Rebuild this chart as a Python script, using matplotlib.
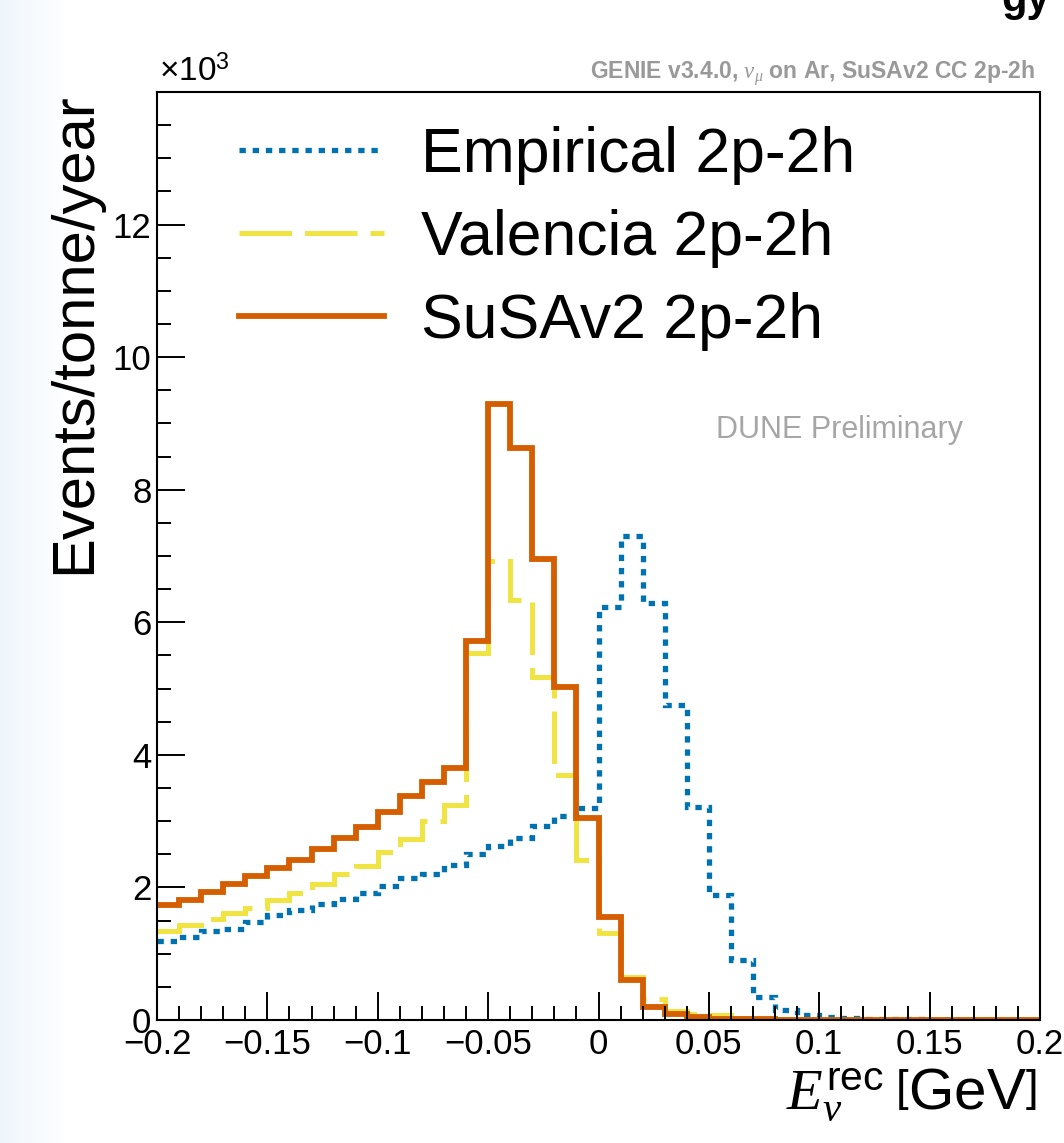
import numpy as np
import matplotlib
matplotlib.use("Agg")
from matplotlib import pyplot as plt
from matplotlib.ticker import MultipleLocator

plt.rcParams['font.family'] = ['Liberation Sans', 'DejaVu Sans']
plt.rcParams['mathtext.fontset'] = 'custom'
plt.rcParams['mathtext.rm'] = 'Liberation Sans'
plt.rcParams['mathtext.sf'] = 'Liberation Sans'
plt.rcParams['mathtext.it'] = 'Liberation Serif:italic'
plt.rcParams['axes.unicode_minus'] = True

# bin edges in GeV (40 bins of 0.01)
edges = np.linspace(-0.2, 0.2, 41)

# events/tonne/year, in units of 10^3
empirical = [1.19, 1.25, 1.34, 1.38, 1.48, 1.58, 1.66, 1.75, 1.83, 1.92,
             2.02, 2.14, 2.21, 2.34, 2.50, 2.63, 2.74, 2.93, 3.08, 3.20,
             6.23, 7.30, 6.29, 4.75, 3.22, 1.88, 0.90, 0.35, 0.15, 0.08,
             0.04, 0.025, 0.015, 0.01, 0.008, 0.006, 0.005, 0.004, 0.003, 0.002]
valencia = [1.35, 1.44, 1.52, 1.62, 1.69, 1.81, 1.91, 2.05, 2.20, 2.33,
            2.53, 2.73, 3.00, 3.25, 5.53, 6.93, 6.33, 5.18, 3.70, 2.41,
            1.31, 0.65, 0.31, 0.13, 0.09, 0.07, 0.03, 0.015, 0.01, 0.008,
            0.006, 0.005, 0.004, 0.003, 0.003, 0.002, 0.002, 0.001, 0.001, 0.001]
susav2 = [1.73, 1.81, 1.93, 2.05, 2.18, 2.29, 2.41, 2.58, 2.74, 2.91,
          3.14, 3.38, 3.59, 3.80, 5.72, 9.30, 8.63, 6.95, 5.03, 3.05,
          1.55, 0.60, 0.20, 0.09, 0.04, 0.02, 0.01, 0.008, 0.006, 0.005,
          0.004, 0.003, 0.003, 0.002, 0.002, 0.001, 0.001, 0.001, 0.001, 0.001]

labels = ["Empirical 2p-2h", "Valencia 2p-2h", "SuSAv2 2p-2h"]
xticks = [-0.2, -0.15, -0.1, -0.05, 0, 0.05, 0.1, 0.15, 0.2]
xticklabels = ["\u22120.2", "\u22120.15", "\u22120.1", "\u22120.05", "0",
               "0.05", "0.1", "0.15", "0.2"]
yticks = [0, 2, 4, 6, 8, 10, 12]

fig = plt.figure(dpi=100, figsize=(10.64, 11.43))

# pale background strip on the left like the screenshot
bg = fig.add_axes([0, 0, 1, 1], zorder=-10)
grad = np.clip(np.linspace(0, 1, 200) / 0.06, 0, 1)
img = np.ones((2, 200, 3))
pale = np.array([0.94, 0.965, 0.985])
for i in range(200):
    img[:, i, :] = pale * (1 - grad[i]) + grad[i]
bg.imshow(img, aspect='auto', extent=[0, 1, 0, 1])
bg.axis('off')

ax = fig.add_axes([0.1476, 0.1076, 0.8298, 0.8119])

# blue dotted, yellow dashed, orange solid
ax.stairs(empirical, edges, baseline=None, color='#0072B2', lw=3.8,
          linestyle=(0, (1.2, 1.3)), label=labels[0])
ax.stairs(valencia, edges, baseline=None, color='#F0E442', lw=3.6,
          linestyle=(0, (10.5, 2.6)), label=labels[1])
ax.stairs(susav2, edges, baseline=None, color='#D55E00', lw=4.2,
          label=labels[2])

ax.set_xlim(-0.2, 0.2)
ax.set_ylim(0, 14)
ax.set_xticks(xticks)
ax.set_xticklabels(xticklabels)
ax.xaxis.set_minor_locator(MultipleLocator(0.01))
ax.set_yticks(yticks)
ax.yaxis.set_minor_locator(MultipleLocator(0.5))
ax.tick_params(axis='both', which='major', direction='in', length=20,
               width=1.4, labelsize=25)
ax.tick_params(axis='both', which='minor', direction='in', length=10,
               width=1.4)
ax.tick_params(axis='x', which='major', pad=6)
ax.tick_params(axis='y', which='major', pad=4)
for s in ax.spines.values():
    s.set_linewidth(1.5)

ax.set_ylabel("Events/tonne/year", fontsize=43, loc='top')
ax.yaxis.set_label_coords(-0.062, 1.0)
ax.set_xlabel(r"$E_{\nu}^{\mathrm{rec}}\;\left[\mathrm{GeV}\right]$",
              fontsize=42, loc='right')
ax.xaxis.set_label_coords(0.996, -0.05)

leg = ax.legend(loc='upper left', bbox_to_anchor=(0.065, 0.99),
                fontsize=45, frameon=False, handlelength=2.32,
                handletextpad=0.58, labelspacing=0.38, borderaxespad=0)

ax.text(0.002, 1.004, r"$\times$10$^{3}$", transform=ax.transAxes,
        fontsize=24, ha='left', va='bottom')
ax.text(0.773, 0.636, "DUNE Preliminary", transform=ax.transAxes,
        fontsize=22, color='#a6a6a6', ha='center', va='center')
fig.text(0.973, 0.931, r"GENIE v3.4.0, $\nu_{\mu}$ on Ar, SuSAv2 CC 2p-2h",
         fontsize=16.5, weight='bold', color='#999999', ha='right',
         va='baseline')
# tail of a slide title cut off at the very top
fig.text(0.987, 0.9905, "gy", fontsize=30, weight='bold', ha='right',
         va='baseline')

plt.savefig("out.png", dpi=100)
